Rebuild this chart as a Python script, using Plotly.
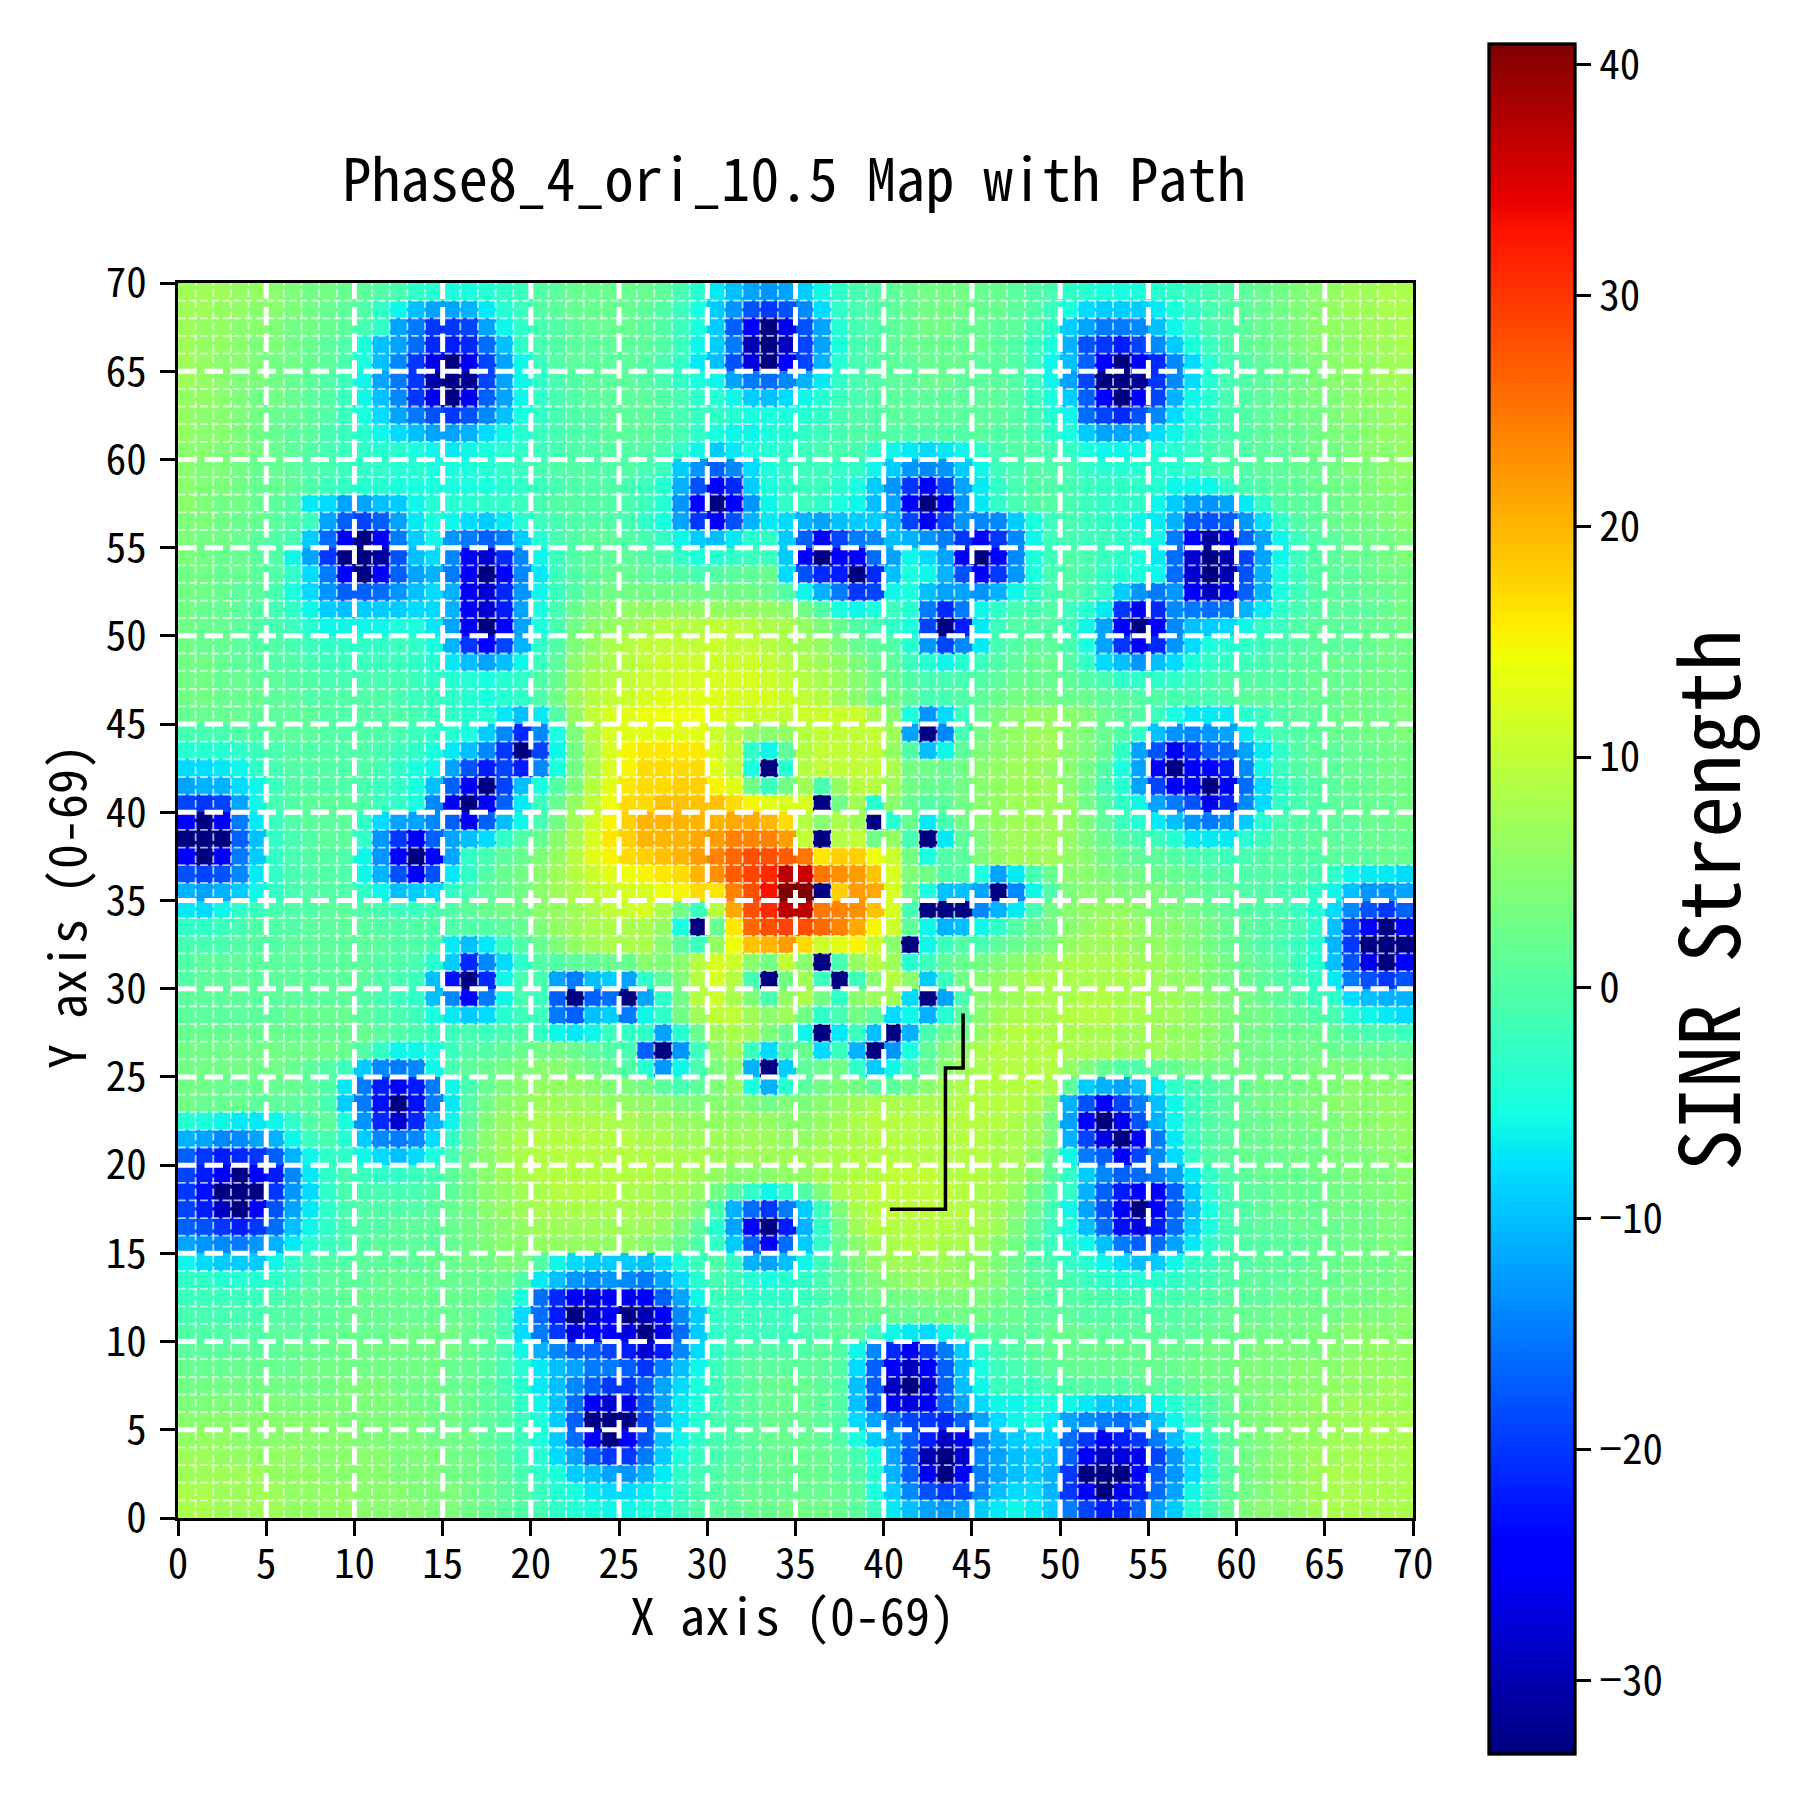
import plotly.graph_objects as go

# SINR per cell, first row is y=69, last row is y=0
sinr_rows = [
    [7,7,7,6,6,5,4,3,3,2, 1,0,-1,-3,-4,-5,-5,-4,-3,-2, 0,1,2,2,2,2,2,1,-1,-4, -7,-10,-12,-13,-12,-9,-6,-3,-1,0, 1,2,3,3,3,2,2,1,0,-1, -3,-4,-5,-5,-5,-4,-3,-2,-1,0, 1,2,3,4,5,6,7,7,8,8],
    [7,7,6,6,5,5,4,3,2,1, 0,-3,-6,-10,-12,-12,-11,-7,-4,-2, 0,1,2,2,2,2,1,0,-2,-5, -9,-13,-18,-20,-18,-14,-8,-3,-1,0, 1,2,3,3,3,2,2,1,0,-2, -5,-8,-9,-9,-9,-7,-5,-3,-1,0, 1,2,3,4,5,6,7,7,8,8],
    [7,6,6,5,5,4,3,3,2,1, -1,-3,-12,-15,-20,-20,-19,-12,-6,-3, -1,0,1,2,2,2,1,0,-2,-5, -9,-17,-25,-33,-26,-18,-12,-4,-1,0, 1,2,3,3,2,2,1,1,-1,-3, -9,-12,-15,-15,-14,-10,-6,-3,-1,0, 1,2,3,4,5,6,6,7,7,8],
    [7,6,6,5,4,4,3,2,1,0, -5,-10,-12,-16,-21,-22,-21,-16,-10,-3, -1,0,1,1,1,1,1,0,-2,-6, -9,-15,-30,-33,-29,-19,-12,-5,-1,0, 1,2,2,2,2,2,1,0,-2,-5, -11,-18,-20,-22,-19,-14,-9,-5,-2,0, 1,2,3,4,5,5,6,7,7,8],
    [7,6,5,5,4,3,3,2,1,-1, -5,-10,-14,-20,-26,-33,-26,-19,-12,-6, -2,0,1,1,1,1,0,-1,-3,-7, -10,-18,-27,-33,-25,-19,-11,-4,-1,0, 1,1,2,2,2,1,1,0,-2,-6, -10,-17,-25,-33,-25,-21,-14,-8,-4,-1, 0,1,2,3,4,5,6,6,7,7],
    [7,6,5,4,4,3,2,1,0,-2, -6,-12,-15,-20,-31,-33,-32,-19,-12,-6, -3,-1,0,1,1,1,0,-1,-3,-5, -6,-12,-15,-16,-14,-11,-7,-3,-1,0, 1,1,2,2,1,1,1,0,-2,-6, -12,-19,-33,-33,-32,-20,-14,-8,-4,-1, 0,1,2,3,4,5,5,6,7,7],
    [6,6,5,4,3,3,2,1,0,-2, -6,-10,-14,-20,-26,-33,-26,-17,-12,-6, -3,-1,0,1,1,1,1,0,-1,-3, -4,-6,-9,-10,-8,-6,-4,-2,-1,0, 1,1,1,1,1,1,1,0,-2,-5, -9,-17,-25,-33,-25,-19,-11,-6,-4,-1, 0,1,2,3,4,4,5,6,6,7],
    [6,5,5,4,3,2,2,1,0,-2, -5,-8,-12,-15,-18,-20,-18,-14,-10,-5, -3,-1,0,0,1,1,1,0,-1,-2, -3,-4,-5,-5,-5,-4,-3,-1,0,0, 1,1,1,1,1,1,1,0,-1,-4, -6,-16,-19,-21,-18,-14,-8,-5,-3,-1, 0,1,2,3,3,4,5,5,6,7],
    [6,5,5,4,3,2,1,1,-1,-2, -4,-6,-8,-10,-12,-12,-11,-8,-6,-4, -2,-1,0,0,1,1,1,0,-1,-3, -5,-6,-6,-5,-4,-3,-2,-1,0,0, 0,0,0,0,0,1,0,0,-1,-3, -5,-9,-12,-12,-11,-8,-6,-4,-2,-1, 0,1,2,2,3,4,4,5,6,6],
    [5,5,4,4,3,2,1,0,-1,-2, -3,-4,-4,-5,-6,-7,-6,-5,-4,-3, -2,-1,0,0,0,0,0,-1,-3,-6, -9,-7,-5,-4,-3,-2,-1,-1,-1,-3, -6,-7,-8,-7,-6,-3,-1,0,0,-1, -3,-5,-6,-6,-6,-5,-4,-3,-1,0, 0,1,1,2,3,3,4,5,5,6],
    [5,4,4,3,2,2,1,0,-1,-2, -3,-3,-4,-4,-5,-5,-5,-4,-3,-2, -1,0,0,0,0,0,-1,-2,-9,-13, -17,-14,-8,-5,-3,-2,-2,-3,-3,-6, -9,-13,-14,-13,-9,-6,-2,-1,0,0, -1,-3,-4,-4,-4,-4,-4,-3,-1,0, 0,1,1,2,2,3,4,4,5,6],
    [5,4,4,3,2,2,1,0,-2,-3, -4,-4,-5,-5,-5,-5,-5,-5,-4,-3, -2,-1,0,0,0,-1,-2,-4,-11,-18, -25,-21,-9,-5,-3,-2,-2,-4,-5,-9, -13,-20,-25,-19,-12,-7,-3,-1,0,0, -1,-2,-3,-3,-3,-4,-6,-6,-6,-3, -1,0,1,1,2,3,3,4,5,5],
    [5,4,3,3,2,1,0,-7,-8,-12, -12,-10,-9,-6,-4,-4,-4,-3,-3,-2, -1,0,0,0,0,-1,-2,-4,-13,-25, -33,-25,-13,-6,-3,-2,-3,-5,-6,-10, -12,-25,-33,-25,-13,-7,-3,-1,0,0, -1,-2,-3,-3,-3,-6,-9,-12,-13,-12, -7,-3,0,1,1,2,3,4,4,5],
    [4,4,3,2,2,1,0,-2,-12,-17, -19,-17,-12,-7,-5,-6,-8,-9,-7,-4, -2,-1,0,0,0,-1,-3,-5,-12,-20, -25,-18,-11,-7,-8,-11,-12,-10,-9,-9, -11,-19,-25,-19,-13,-14,-14,-9,-5,-2, -1,-2,-3,-4,-6,-7,-11,-17,-18,-17, -13,-8,-3,0,1,2,3,3,4,5],
    [4,3,3,2,1,0,-1,-9,-16,-25, -33,-25,-15,-9,-6,-13,-15,-17,-15,-9, -4,-1,0,1,1,0,-1,-3,-6,-9, -10,-7,-4,-3,-9,-17,-25,-19,-15,-14, -10,-11,-13,-15,-20,-25,-20,-14,-6,-2, -1,-2,-2,-3,-4,-6,-15,-25,-31,-25, -17,-12,-6,-2,0,1,2,3,3,4],
    [4,3,2,2,1,0,-6,-12,-20,-33, -33,-31,-18,-10,-8,-14,-25,-28,-21,-14, -6,-2,0,1,1,1,0,-1,-3,-5, -4,-3,-2,-2,-9,-25,-33,-25,-25,-16, -12,-6,-8,-12,-25,-33,-25,-14,-5,-2, 0,-1,-2,-3,-5,-7,-16,-28,-33,-30, -19,-12,-6,-2,0,1,2,2,3,4],
    [3,3,2,2,1,0,-3,-8,-15,-25, -33,-25,-17,-12,-11,-15,-24,-33,-24,-14, -7,-2,0,1,2,2,1,1,0,-1, 0,1,1,2,-8,-18,-21,-22,-33,-21, -10,-5,-6,-11,-18,-25,-20,-13,-5,-1, 0,-1,-3,-4,-5,-6,-16,-28,-33,-30, -18,-11,-5,-2,0,1,1,2,3,3],
    [3,3,2,1,1,-1,-5,-8,-13,-17, -17,-16,-13,-10,-8,-11,-25,-28,-21,-13, -6,-2,0,2,3,3,3,3,3,3, 3,3,3,2,0,-6,-11,-15,-20,-19, -6,-5,-10,-12,-12,-13,-11,-6,-3,-1, 0,-1,-3,-9,-13,-15,-13,-25,-29,-25, -17,-11,-5,-2,0,1,1,2,2,3],
    [3,2,2,1,0,-1,-3,-6,-9,-10, -9,-9,-9,-8,-8,-11,-25,-28,-22,-12, -5,-1,2,4,5,6,6,6,6,6, 6,6,6,6,5,3,0,-5,-6,-5, -2,-4,-15,-21,-15,-6,-3,-1,-1,0, -2,-4,-7,-20,-25,-21,-14,-15,-16,-15, -11,-7,-3,-1,0,1,1,1,2,3],
    [3,2,2,1,0,-1,-2,-4,-6,-6, -6,-6,-5,-5,-7,-12,-25,-33,-25,-12, -5,-1,3,5,6,7,8,9,9,9, 10,10,9,8,8,6,4,2,0,-1, -3,-5,-19,-33,-22,-7,-2,0,0,0, -2,-6,-12,-25,-33,-25,-14,-10,-9,-8, -6,-3,-2,0,1,1,1,2,2,3],
    [3,2,2,1,0,0,-1,-2,-3,-3, -3,-3,-2,-3,-5,-11,-20,-25,-19,-11, -3,0,4,6,8,9,10,10,10,10, 11,10,10,9,8,7,6,4,2,1, 0,-4,-13,-19,-14,-7,-1,0,1,1, -1,-5,-12,-20,-25,-21,-13,-8,-5,-4, -3,-2,-1,0,1,1,1,2,3,3],
    [3,3,2,1,1,0,0,-1,-2,-2, -2,-2,-2,-3,-4,-7,-10,-12,-10,-6, -2,1,5,7,8,9,10,11,11,11, 11,11,11,10,9,8,7,6,4,2, 1,-2,-4,-6,-4,-2,0,1,2,2, 0,-3,-8,-10,-13,-10,-8,-5,-3,-3, -2,-1,0,1,1,2,2,2,3,3],
    [3,3,2,2,1,1,0,0,-1,-1, -1,-1,-1,-2,-3,-4,-4,-5,-4,-3, 0,2,6,8,9,10,11,11,12,12, 12,12,12,11,10,9,8,7,5,3, 2,0,-1,-1,-1,0,1,2,2,2, 1,0,-1,-3,-3,-3,-3,-2,-1,0, 0,0,0,1,2,2,2,3,3,3],
    [3,3,2,2,2,1,1,0,0,0, 0,0,-1,-2,-2,-3,-4,-5,-4,-3, 0,3,7,9,10,11,12,13,13,13, 13,12,12,12,11,10,9,7,5,3, 3,1,-1,-1,0,1,2,3,3,3, 2,2,1,1,0,0,-1,-1,-1,0, 1,1,1,1,2,2,3,3,3,4],
    [2,2,2,2,1,1,1,1,0,0, 0,0,0,-1,-2,-3,-4,-4,-7,-10, -7,0,6,10,12,13,14,14,14,14, 13,12,11,11,10,11,11,11,11,8, 5,-5,-13,-8,-2,2,4,5,6,6, 5,4,2,1,0,-2,-5,-7,-7,-7, -4,-2,0,1,1,2,3,3,3,4],
    [-1,-1,-1,0,0,1,1,1,0,0, 0,0,-1,-2,-3,-4,-5,-9,-14,-21, -14,-5,4,9,12,13,13,13,13,13, 11,9,6,5,6,9,10,10,10,10, 7,-12,-33,-14,-1,3,5,6,7,7, 5,4,2,0,-3,-10,-13,-14,-13,-12, -7,-3,-1,0,1,2,2,3,3,4],
    [-4,-4,-4,-3,-2,-1,0,0,0,0, 0,-1,-2,-3,-5,-7,-10,-14,-20,-33, -19,-6,3,8,12,15,16,16,16,16, 12,10,-3,-6,1,9,10,10,10,10, 6,0,-10,-6,1,4,5,6,7,7, 5,4,2,-3,-12,-18,-26,-21,-17,-16, -12,-7,-3,0,1,1,2,2,3,3],
    [-8,-8,-7,-6,-3,-1,0,0,0,0, 0,-1,-3,-5,-6,-12,-18,-22,-19,-22, -14,-5,3,8,12,15,17,17,17,17, 13,10,-5,-33,-4,9,10,10,10,10, 8,3,3,2,3,5,6,7,7,6, 5,3,0,-5,-12,-25,-33,-25,-25,-22, -14,-6,-2,0,1,1,2,2,3,3],
    [-12,-11,-11,-8,-6,-2,0,0,0,0, -1,-2,-3,-5,-10,-17,-25,-33,-19,-10, -5,0,4,9,13,16,17,17,18,18, 15,13,3,-2,3,7,-1,6,9,9, 7,3,2,2,3,5,6,7,7,7, 5,3,-1,-4,-12,-19,-25,-25,-33,-25, -16,-8,-3,-1,0,1,2,2,3,3],
    [-19,-20,-19,-12,-6,-1,0,1,1,1, 0,-2,-3,-5,-14,-25,-33,-25,-17,-7, -2,2,6,10,14,17,17,19,19,19, 19,17,15,13,12,12,-33,3,7,-4, 5,2,0,1,3,5,6,7,7,7, 6,3,0,-3,-6,-12,-15,-18,-26,-21, -14,-8,-3,-1,0,1,1,2,2,3],
    [-25,-33,-25,-15,-7,-2,0,1,1,1, -3,-8,-12,-12,-14,-17,-25,-17,-10,-6, -1,3,7,11,15,18,20,20,20,20, 20,21,21,20,17,9,5,8,7,-33, -4,2,-7,-1,3,5,6,7,7,7, 6,4,1,-2,-4,-7,-10,-13,-15,-13, -9,-4,-1,0,0,1,1,2,2,3],
    [-33,-33,-33,-17,-10,-3,-1,0,1,1, -3,-13,-20,-25,-17,-12,-10,-8,-3,0, 2,5,8,12,16,18,20,20,20,21, 22,24,24,24,22,10,-33,9,10,3, 6,-1,-33,-7,1,4,6,7,7,7, 6,4,2,0,-1,-2,-4,-7,-7,-7, -4,-2,0,0,1,1,1,2,2,2],
    [-25,-33,-25,-15,-9,-3,-1,0,0,0, -6,-13,-25,-33,-25,-12,-3,-1,1,2, 4,6,9,13,15,17,18,19,20,22, 24,26,28,28,27,25,16,18,18,14, 11,3,-5,0,1,4,6,7,7,7, 6,5,3,2,1,1,0,-1,-1,-2, -1,0,0,0,0,1,1,1,2,2],
    [-18,-19,-18,-14,-7,-3,-1,0,0,0, -6,-11,-18,-25,-18,-7,-3,0,2,3, 5,7,9,11,13,14,15,16,17,20, 23,27,29,31,37,36,25,23,22,19, 12,4,3,0,0,-5,-12,-7,-1,2, 5,5,4,3,3,2,2,1,0,0, 0,0,0,0,-1,-3,-6,-7,-7,-8],
    [-11,-12,-11,-9,-6,-3,-1,0,0,0, -3,-6,-10,-9,-8,-3,-1,1,2,3, 5,7,8,10,11,12,12,14,15,17, 16,24,28,33,41,41,-33,18,22,21, 12,3,-5,-10,-10,-12,-33,-14,-6,0, 4,5,5,4,4,4,3,2,1,1, 0,0,-1,-1,-3,-6,-10,-13,-13,-12],
    [-7,-8,-6,-3,-2,-1,0,0,1,1, 0,-1,-2,-2,-1,0,1,2,3,3, 5,6,7,8,10,11,12,8,3,-2, 9,21,28,31,37,37,25,24,23,19, 12,-1,-33,-33,-33,-14,-11,-7,-1,3, 5,6,6,6,5,4,4,3,2,1, 0,0,-1,-2,-4,-8,-14,-18,-20,-17],
    [-3,-3,-2,-1,0,0,0,1,1,1, 1,0,0,0,0,0,0,0,1,2, 4,6,7,8,8,8,8,6,-5,-33, 2,16,26,28,29,28,26,24,21,15, 11,1,-6,-11,-10,-6,-3,0,2,3, 5,6,7,7,6,5,5,4,3,2, 1,0,0,-1,-3,-10,-19,-25,-33,-25],
    [-1,-1,-1,0,0,0,1,1,1,1, 1,1,0,0,-1,-7,-10,-7,-3,0, 2,4,6,7,8,8,8,5,1,-2, 6,14,19,20,22,17,11,13,15,11, 5,-33,-6,-2,0,-1,1,2,3,4, 6,7,7,7,6,6,5,4,3,2, 1,0,-1,-2,-4,-11,-20,-33,-33,-33],
    [0,1,1,1,1,1,1,1,1,1, 1,0,0,-1,-4,-9,-21,-14,-8,-3, 0,0,1,1,2,2,5,4,5,9, 12,11,5,3,10,5,-33,-1,6,9, 7,-4,-2,1,2,3,4,5,6,7, 8,8,8,8,7,7,6,5,4,3, 2,1,0,-2,-4,-10,-18,-26,-33,-25],
    [0,1,1,1,1,1,1,1,1,1, 1,0,-1,-2,-10,-23,-33,-21,-6,-1, -1,-12,-15,-10,-9,-12,-3,1,4,9, 12,9,-1,-33,3,7,-2,-33,-2,5, 9,5,-9,-2,3,5,6,7,8,8, 8,8,8,8,8,7,6,6,4,3, 2,1,0,-1,-3,-7,-15,-18,-20,-18],
    [1,1,1,1,1,1,1,1,1,1, 0,-1,-2,-3,-10,-14,-25,-15,-6,-1, -2,-17,-33,-17,-16,-33,-12,-3,3,9, 11,8,4,-1,6,8,3,-3,5,7, 7,-8,-33,-12,-1,5,6,7,8,8, 8,9,9,8,8,7,7,6,5,4, 3,2,1,0,-2,-3,-8,-10,-11,-11],
    [1,1,1,1,1,1,2,2,2,2, 1,0,-1,-2,-5,-7,-9,-8,-4,-2, -2,-15,-17,-10,-9,-15,-6,-3,3,7, 10,10,7,5,7,3,-3,-1,3,1, -8,-6,-11,-4,1,5,7,8,8,8, 9,9,9,8,8,7,7,6,5,4, 3,3,2,1,0,-1,-4,-6,-7,-8],
    [2,2,2,2,2,2,2,2,2,2, 2,1,0,-1,-2,-2,-1,-2,-1,0, -3,-6,-7,-6,-2,-3,-3,-12,-4,2, 7,8,7,4,2,-6,-33,-7,-2,-10, -33,-11,-1,2,3,6,8,9,9,8, 8,8,8,7,7,7,6,6,5,4, 3,3,2,2,2,1,0,-1,-1,-2],
    [3,3,3,3,3,3,3,3,3,2, 0,-3,-6,-6,-5,-2,0,0,1,2, 3,3,2,1,0,-1,-17,-33,-13,-2, 5,7,-2,-8,0,2,-8,-2,-11,-33, -13,-5,1,4,6,8,9,9,9,9, 8,8,8,7,7,7,6,6,5,4, 3,3,3,3,3,2,2,2,2,2],
    [3,3,3,3,3,3,2,1,0,-2, -9,-14,-15,-14,-6,-1,1,2,3,4, 5,5,4,3,2,0,-4,-13,-6,-1, 4,5,-11,-33,-9,1,2,3,-3,-9, -6,-1,2,5,7,8,9,9,9,9, 6,4,2,0,0,1,2,3,3,3, 3,3,3,3,4,4,4,4,4,4],
    [3,3,2,2,2,2,2,1,0,-7, -15,-22,-25,-22,-15,-6,-1,2,4,5, 6,6,6,5,4,4,3,1,-1,1, 4,6,-5,-11,-4,1,3,4,3,1, 1,3,5,7,8,9,9,9,9,8, 1,-9,-11,-12,-10,-7,-3,-1,0,1, 2,3,3,3,4,4,5,5,5,5],
    [3,2,2,2,1,1,1,1,-1,-9, -15,-23,-33,-23,-15,-7,0,3,5,6, 7,7,7,7,6,6,6,5,4,4, 5,5,4,3,4,4,5,6,7,8, 8,8,8,8,9,9,9,9,8,5, -11,-18,-25,-19,-15,-10,-6,-2,0,1, 2,3,3,4,4,5,5,5,6,6],
    [-4,-5,-6,-7,-7,-6,-3,0,1,-5, -13,-21,-28,-21,-11,-6,1,4,6,7, 8,8,8,8,8,8,7,7,6,6, 6,6,6,6,5,5,6,7,8,9, 9,9,9,9,9,9,9,8,7,3, -12,-25,-33,-26,-18,-11,-6,-2,0,1, 2,2,3,3,4,4,5,5,6,6],
    [-11,-12,-14,-14,-12,-11,-6,-2,-1,-4, -9,-14,-15,-14,-8,-3,2,5,7,8, 9,9,9,9,9,9,8,8,7,7, 7,7,7,7,6,6,7,8,8,9, 9,9,9,9,9,9,8,8,7,4, -11,-19,-27,-33,-25,-15,-7,-2,0,1, 2,2,3,3,3,4,4,5,5,6],
    [-17,-20,-22,-21,-20,-17,-11,-6,-3,-3, -6,-8,-10,-8,-5,-1,3,5,7,8, 9,9,9,9,9,9,9,8,8,8, 7,7,7,7,7,7,8,8,9,9, 9,9,9,9,9,9,8,8,6,2, -6,-15,-17,-25,-19,-14,-8,-3,0,1, 2,2,2,3,3,4,4,4,5,5],
    [-19,-22,-25,-33,-25,-22,-14,-7,-3,-1, -2,-3,-3,-2,-1,1,3,5,7,8, 9,9,9,9,9,9,9,8,8,7, 6,5,5,5,6,6,8,8,9,9, 10,10,10,9,9,9,8,7,5,1, -3,-9,-14,-17,-16,-15,-12,-7,-3,0, 1,2,2,2,3,3,4,4,4,5],
    [-20,-23,-33,-33,-33,-20,-13,-8,-3,-1, -1,-1,-1,-1,0,1,3,5,6,7, 8,9,9,9,9,8,8,7,7,6, 3,0,-3,-6,-3,0,4,8,9,10, 10,10,10,10,9,8,8,6,3,0, -3,-11,-17,-22,-25,-25,-17,-9,-4,-1, 1,1,2,2,2,3,3,4,4,5],
    [-19,-22,-29,-33,-25,-18,-12,-7,-3,-1, 0,0,0,0,1,2,3,5,6,7, 8,8,8,8,8,8,8,7,6,4, -1,-11,-16,-20,-15,-9,-2,4,8,9, 10,10,10,9,9,8,7,5,2,-1, -6,-12,-18,-25,-33,-25,-17,-10,-5,-1, 0,1,2,2,2,3,3,3,4,4],
    [-17,-18,-20,-22,-20,-16,-10,-6,-3,-1, 0,0,1,1,1,2,3,4,5,6, 7,7,7,7,7,7,7,6,4,1, -4,-12,-25,-33,-22,-11,-3,3,7,9, 9,9,9,9,8,8,7,4,1,-2, -5,-10,-16,-23,-27,-22,-16,-9,-5,-1, 0,1,1,2,2,2,3,3,4,4],
    [-12,-13,-14,-15,-13,-11,-7,-4,-2,-1, 0,1,1,1,1,2,3,4,5,5, 6,6,6,6,6,6,5,4,2,0, -3,-9,-17,-25,-16,-9,-3,2,5,7, 8,9,9,8,8,7,5,3,0,-2, -4,-6,-10,-15,-17,-16,-12,-7,-3,-1, 0,0,1,1,2,2,3,3,4,4],
    [-6,-8,-9,-9,-9,-6,-3,-1,0,0, 1,1,1,1,2,2,3,3,4,4, 0,-6,-8,-9,-9,-9,-10,-8,-5,-2, 0,-3,-11,-12,-10,-6,-2,1,4,6, 7,7,7,7,6,6,4,2,0,-1, -3,-4,-6,-8,-10,-9,-6,-3,-2,0, 0,1,1,1,2,2,3,3,3,4],
    [-3,-3,-4,-4,-4,-3,-2,0,1,1, 1,2,2,2,2,2,2,2,2,0, -7,-10,-13,-14,-13,-14,-15,-12,-8,-4, -1,-2,-4,-5,-4,-3,-1,1,3,4, 5,6,6,6,6,5,4,2,1,0, -1,-2,-3,-4,-4,-4,-3,-2,-1,0, 1,1,1,2,2,2,3,3,3,4],
    [-2,-2,-2,-2,-2,-1,0,1,1,1, 2,2,2,2,2,2,2,2,0,-5, -16,-21,-25,-27,-25,-26,-25,-17,-12,-6, -2,-2,-3,-3,-3,-2,-1,0,2,3, 3,3,4,4,4,4,3,2,1,0, 0,0,-1,-1,-1,-1,-1,0,0,1, 1,1,2,2,2,3,3,3,4,4],
    [-1,-1,-1,-1,-1,0,0,1,1,2, 2,2,2,2,2,2,2,1,-1,-8, -16,-22,-33,-28,-25,-33,-30,-25,-14,-9, -3,-2,-2,-2,-2,-1,0,1,2,2, 2,2,2,3,3,3,2,2,1,1, 1,0,0,0,0,0,0,1,1,2, 2,2,3,3,3,3,4,4,4,5],
    [0,0,0,0,0,1,1,1,2,2, 2,2,3,3,3,3,2,1,-1,-8, -15,-20,-27,-25,-25,-27,-33,-27,-16,-9, -3,-2,-2,-2,-2,-1,0,1,1,-2, -6,-7,-8,-6,-3,0,1,1,1,2, 2,2,1,1,1,1,1,1,2,2, 3,3,3,3,4,4,5,5,5,5],
    [1,1,1,1,1,1,2,2,2,3, 3,3,3,3,3,3,2,1,-1,-6, -11,-14,-17,-17,-19,-22,-28,-22,-14,-8, -3,-1,0,0,0,0,1,0,-6,-14, -21,-26,-20,-15,-9,-4,-1,0,1,2, 2,2,2,2,2,2,2,2,3,3, 3,4,4,4,4,5,5,6,6,6],
    [2,2,2,2,2,2,2,3,3,3, 3,3,3,3,3,2,2,1,-1,-4, -7,-10,-12,-15,-15,-17,-20,-15,-10,-6, -2,0,1,1,1,1,1,0,-8,-17, -25,-29,-25,-17,-10,-5,-2,-1,0,1, 2,2,2,2,2,2,2,3,3,3, 4,4,4,5,5,5,6,6,6,6],
    [3,3,3,3,3,3,3,3,3,4, 4,4,3,3,3,2,2,1,-1,-4, -7,-10,-14,-17,-20,-20,-17,-12,-8,-5, -2,0,1,2,2,2,1,0,-10,-17, -29,-33,-28,-17,-10,-6,-2,-2,-2,-1, 0,0,0,0,1,1,1,2,3,3, 4,4,4,5,5,6,6,6,7,7],
    [4,4,4,4,4,4,4,4,4,4, 4,4,4,3,3,3,2,1,0,-3, -6,-10,-16,-25,-28,-26,-18,-12,-7,-5, -2,0,1,2,2,2,1,0,-10,-17, -25,-27,-25,-17,-12,-8,-6,-6,-5,-5, -6,-7,-9,-9,-8,-6,-4,-2,0,2, 3,4,5,5,6,6,7,7,7,7],
    [5,5,5,5,5,5,5,5,5,4, 4,4,4,4,3,3,2,1,0,-2, -5,-9,-17,-33,-33,-33,-19,-12,-7,-4, -1,0,1,2,2,2,1,0,-8,-12, -16,-19,-20,-21,-17,-12,-8,-6,-5,-7, -12,-14,-15,-16,-14,-10,-6,-3,0,2, 4,4,5,6,6,7,7,8,8,8],
    [6,6,6,5,5,5,5,5,5,5, 4,4,4,4,3,3,3,1,0,-2, -5,-9,-16,-25,-33,-25,-18,-10,-6,-3, -1,0,1,2,2,2,1,0,-5,-9, -12,-17,-22,-29,-26,-15,-11,-9,-8,-8, -16,-20,-25,-22,-20,-15,-10,-6,-2,1, 3,4,5,6,6,7,7,8,8,8],
    [7,7,6,6,6,6,6,5,5,5, 5,5,4,4,4,3,3,2,0,-2, -4,-8,-12,-17,-20,-20,-15,-9,-5,-2, -1,0,1,2,2,2,2,1,-1,-5, -12,-18,-30,-33,-28,-14,-12,-10,-9,-10, -17,-25,-29,-27,-25,-19,-13,-8,-3,1, 3,4,5,6,7,7,8,8,8,8],
    [7,7,7,7,7,6,6,6,5,5, 5,5,4,4,4,3,3,2,1,-1, -3,-5,-9,-10,-12,-13,-11,-7,-3,-1, 0,1,1,2,2,2,2,1,0,-4, -11,-17,-26,-33,-25,-15,-12,-10,-9,-11, -20,-33,-33,-33,-25,-17,-13,-8,-3,1, 3,4,5,6,7,8,8,8,8,8],
    [8,8,7,7,7,7,6,6,6,6, 5,5,5,4,4,4,3,2,1,0, -2,-4,-5,-7,-8,-8,-7,-5,-3,-1, 0,1,2,2,2,2,2,2,1,-5, -9,-14,-18,-20,-19,-14,-10,-8,-8,-11, -20,-25,-33,-26,-22,-16,-12,-6,-2,1, 3,4,5,6,7,8,8,8,8,8],
    [8,8,7,7,7,7,6,6,6,6, 5,5,5,5,4,4,3,2,1,0, -1,-3,-4,-5,-6,-6,-5,-4,-2,0, 1,1,2,2,3,3,3,2,1,-2, -7,-10,-12,-13,-12,-9,-7,-6,-7,-9, -15,-19,-22,-21,-17,-12,-9,-4,-1,2, 4,5,5,6,7,8,8,8,8,8],
]

path_x = [40.35, 41.5, 42.5, 43.5, 43.5, 43.5, 43.5, 43.5, 43.5, 43.5, 43.5, 43.5, 44.5, 44.5, 44.5, 44.5]
path_y = [17.5, 17.5, 17.5, 17.5, 18.5, 19.5, 20.5, 21.5, 22.5, 23.5, 24.5, 25.5, 25.5, 26.5, 27.5, 28.6]

cell_edges = list(range(71))
major_grid = list(range(0, 71, 5))
minor_grid = [v for v in range(70) if v % 5 != 0]
cbar_ticks = [-30, -20, -10, 0, 10, 20, 30, 40]

# matplotlib's jet breakpoints
jet = [
    [0.0, "rgb(0,0,128)"], [0.11, "rgb(0,0,255)"], [0.125, "rgb(0,0,255)"],
    [0.34, "rgb(0,219,255)"], [0.35, "rgb(0,230,247)"], [0.375, "rgb(21,255,226)"],
    [0.64, "rgb(239,255,8)"], [0.65, "rgb(247,246,0)"], [0.66, "rgb(255,236,0)"],
    [0.89, "rgb(255,19,0)"], [0.91, "rgb(232,0,0)"], [1.0, "rgb(128,0,0)"],
]

FONT = "Noto Sans Mono CJK SC, Liberation Mono, monospace"

# the page body adds 8px, so the figure is 1792 and page pixels are shifted by it
SIZE = 1792


def fx(px):
    return (px - 8) / SIZE


def fy(py):
    return 1 - (py - 8) / SIZE


def grid_xy(vals):
    # every line starts at the low end so the dashes begin at the axis
    xs, ys = [], []
    for v in vals:
        xs += [v, v, None, 0, 70, None]
        ys += [0, 70, None, v, v, None]
    return xs, ys


fig = go.Figure()
fig.add_trace(go.Heatmap(
    z=sinr_rows[::-1], x=cell_edges, y=cell_edges,
    colorscale=jet, zmin=-33.2, zmax=40.9, zsmooth=False, hoverinfo="skip",
    colorbar=dict(
        x=fx(1489), xanchor="left", y=fy(899), yanchor="middle",
        thickness=86, lenmode="pixels", len=1710, xpad=0, ypad=0,
        outlinecolor="black", outlinewidth=3.3,
        tickvals=cbar_ticks, ticks="outside", ticklen=15, tickwidth=3.3, tickcolor="black",
        tickprefix="\u2009",
        tickfont=dict(family=FONT, size=41, color="black"),
    ),
))

minor_x, minor_y = grid_xy(minor_grid)
fig.add_trace(go.Scatter(
    x=minor_x, y=minor_y, mode="lines", hoverinfo="skip", showlegend=False,
    line=dict(color="rgba(255,255,255,0.7)", width=1.8, dash="7.7px,3.4px"),
))
major_x, major_y = grid_xy(major_grid[1:-1])
fig.add_trace(go.Scatter(
    x=major_x, y=major_y, mode="lines", hoverinfo="skip", showlegend=False,
    line=dict(color="white", width=5, dash="18.5px,8px"),
))
fig.add_trace(go.Scatter(
    x=path_x, y=path_y, mode="lines", hoverinfo="skip", showlegend=False,
    line=dict(color="black", width=3.5),
))

axis_style = dict(
    range=[0, 70], tickvals=major_grid, ticks="outside", ticklen=15, tickwidth=3.3,
    tickcolor="black", showline=True, linecolor="black", linewidth=3.3, mirror=True,
    showgrid=False, zeroline=False,
    tickfont=dict(family=FONT, size=41, color="black"),
)
fig.update_layout(
    width=SIZE, height=SIZE, autosize=False,
    margin=dict(l=0, r=0, t=0, b=0, autoexpand=False),
    paper_bgcolor="white", plot_bgcolor="white",
    font=dict(family=FONT, color="black"),
    title=dict(
        text="Phase8_4_ori_10.5 Map with Path", x=fx(794), xanchor="center",
        y=fy(181), yanchor="middle", font=dict(family=FONT, size=58.3, color="black"),
    ),
    xaxis=dict(domain=[fx(178), fx(1413)], ticklabelstandoff=-7, **axis_style),
    yaxis=dict(domain=[fy(1518), fy(283)], ticklabelstandoff=5, **axis_style),
    annotations=[
        dict(text="X axis (0-69)", xref="paper", yref="paper", x=fx(792), y=fy(1613),
             xanchor="center", yanchor="middle", showarrow=False,
             font=dict(family=FONT, size=50, color="black")),
        dict(text="Y axis (0-69)", xref="paper", yref="paper", x=fx(64), y=fy(907),
             xanchor="center", yanchor="middle", textangle=-90, showarrow=False,
             font=dict(family=FONT, size=50, color="black")),
        dict(text="SINR Strength", xref="paper", yref="paper", x=fx(1704), y=fy(901),
             xanchor="center", yanchor="middle", textangle=-90, showarrow=False,
             font=dict(family=FONT, size=83.3, color="black")),
    ],
)

fig.write_html("out.html")
